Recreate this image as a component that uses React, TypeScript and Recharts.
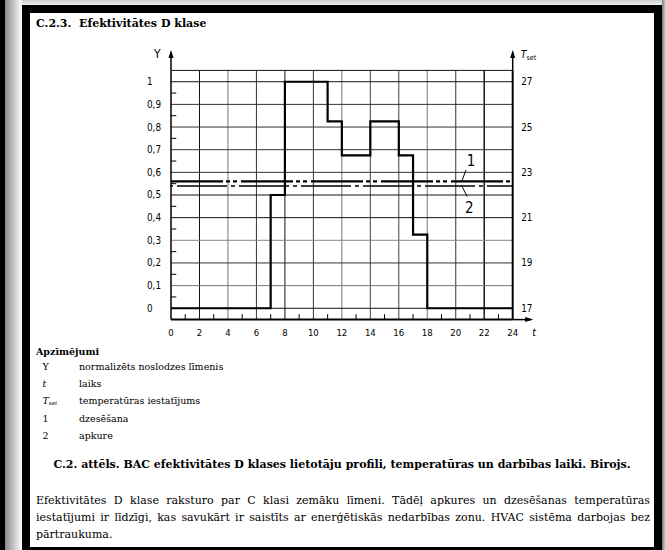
import React from 'react';
import { ComposedChart, Line, XAxis, YAxis, ReferenceLine, ReferenceDot } from 'recharts';

// ---- data ----
const hours = [0, 7, 8, 11, 12, 14, 16, 17, 18, 24];
const loadLevel = [0, 0.5, 1, 0.825, 0.675, 0.825, 0.675, 0.325, 0, 0];
const coolingSetpoint = 22.6;
const heatingSetpoint = 22.4;

const xTicks = [0, 2, 4, 6, 8, 10, 12, 14, 16, 18, 20, 22, 24];
const yTicks = [0, 0.1, 0.2, 0.3, 0.4, 0.5, 0.6, 0.7, 0.8, 0.9, 1];
const yTickLabels = ['0', '0,1', '0,2', '0,3', '0,4', '0,5', '0,6', '0,7', '0,8', '0,9', '1'];
const tTicks = [17, 19, 21, 23, 25, 27];
const xGrid = [2, 4, 6, 8, 10, 12, 14, 16, 18, 20, 22];
const xGridTone = ['#111', '#777', '#333', '#111', '#333', '#777', '#444', '#444', '#777', '#333', '#222'];
const yGrid = [0, 0.1, 0.2, 0.3, 0.4, 0.5, 0.6, 0.7, 0.8, 0.9, 1, 1.05];
const yGridTone = ['#111', '#777', '#333', '#888', '#111', '#111', '#333', '#333', '#333', '#333', '#111', '#111'];
const yMinor = [0.05, 0.15, 0.25, 0.35, 0.45, 0.55, 0.65, 0.75, 0.85, 0.95];
const xMinor = [1, 3, 5, 7, 9, 11, 13, 15, 17, 19, 21, 23];

const calloutLabels = ['1', '2'];
const calloutAt = [{ t: 21.07, y: 0.652 }, { t: 20.96, y: 0.445 }];
const calloutLeader = [
  [{ t: 20.72, y: 0.61 }, { t: 20.41, y: 0.559 }],
  [{ t: 20.41, y: 0.542 }, { t: 20.81, y: 0.4925 }],
];

const rows = hours.map((h, i) => ({ t: h, load: loadLevel[i], cool: coolingSetpoint, heat: heatingSetpoint }));

const sansC = "'DejaVu Sans Condensed','DejaVu Sans',sans-serif";
const serif = "'DejaVu Serif',serif";

const LeftTick = (p: any) => {
  const i = yTicks.indexOf(p.payload.value);
  return (
    <text x={p.x - 24} y={p.y} dy="0.355em" textAnchor="start" fontFamily={sansC} fontSize={9.8} fill="#000">
      {i >= 0 ? yTickLabels[i] : ''}
    </text>
  );
};
const RightTick = (p: any) => (
  <text x={p.x} y={p.y} dy="0.355em" textAnchor="start" fontFamily={sansC} fontSize={9.8} fill="#000">
    {p.payload.value}
  </text>
);
const BottomTick = (p: any) => (
  <text x={p.x} y={p.y} dy="0.71em" textAnchor="middle" fontFamily={sansC} fontSize={9.5} fill="#000">
    {p.payload.value}
  </text>
);

const ArrowUp = (p: any) => <path d={`M${p.cx},${p.cy} L${p.cx - 2.5},${p.cy + 8} L${p.cx + 2.5},${p.cy + 8} Z`} fill="#000" />;
const ArrowRight = (p: any) => <path d={`M${p.cx},${p.cy} L${p.cx - 8},${p.cy - 2.5} L${p.cx - 8},${p.cy + 2.5} Z`} fill="#000" />;
const YName = (p: any) => (
  <text x={p.cx - 17} y={p.cy + 4} dy="0.355em" fontFamily={sansC} fontSize={12} fill="#000">Y</text>
);
const TName = (p: any) => (
  <text x={p.cx + 8} y={p.cy + 4} dy="0.355em" fontFamily={sansC} fontSize={10.5} fill="#000">
    <tspan fontStyle="italic">T</tspan>
    <tspan fontSize={7} dy="2.5">set</tspan>
  </text>
);
const tName = (p: any) => (
  <text x={p.cx - 1} y={p.cy + 12.5} dy="0.355em" fontFamily={sansC} fontSize={10.5} fontStyle="italic" fill="#000">t</text>
);
const makeCallout = (s: string) => (p: any) => (
  <text x={p.cx} y={p.cy} dy="0.355em" textAnchor="middle" fontFamily={sansC} fontSize={15} fill="#000">{s}</text>
);

const Chart = () => (
  <ComposedChart
    width={666}
    height={550}
    data={rows}
    margin={{ top: 70.4, right: 113.3, bottom: 200.4, left: 131 }}
    style={{ position: 'absolute', left: 0, top: 0 }}
  >
    <XAxis
      dataKey="t"
      type="number"
      domain={[0, 24]}
      ticks={xTicks}
      interval={0}
      allowDataOverflow
      height={30}
      tickSize={0}
      tickMargin={9.5}
      tick={<BottomTick />}
      axisLine={{ stroke: '#000', strokeWidth: 2 }}
      tickLine={false}
    />
    <YAxis
      yAxisId="left"
      type="number"
      domain={[-0.05, 1.05]}
      ticks={yTicks}
      interval={0}
      allowDataOverflow
      width={40}
      tickSize={0}
      tickMargin={0}
      tick={<LeftTick />}
      axisLine={{ stroke: '#000', strokeWidth: 1.5 }}
      tickLine={false}
    />
    <YAxis
      yAxisId="right"
      orientation="right"
      type="number"
      domain={[16.5, 27.5]}
      ticks={tTicks}
      interval={0}
      allowDataOverflow
      width={40}
      tickSize={0}
      tickMargin={8.5}
      tick={<RightTick />}
      axisLine={{ stroke: '#000', strokeWidth: 2 }}
      tickLine={false}
    />

    {xGrid.map((v, i) => (
      <ReferenceLine key={'gx' + v} yAxisId="left" x={v} stroke={xGridTone[i]} strokeWidth={v === 22 ? 1.6 : 1} ifOverflow="visible" />
    ))}
    {yGrid.map((v, i) => (
      <ReferenceLine key={'gy' + v} yAxisId="left" y={v} stroke={yGridTone[i]} strokeWidth={1} ifOverflow="visible" />
    ))}
    {yMinor.map((v) => (
      <ReferenceLine key={'my' + v} yAxisId="left" segment={[{ x: 0, y: v }, { x: 0.37, y: v }]} stroke="#000" strokeWidth={1} ifOverflow="visible" />
    ))}
    {xMinor.map((v) => (
      <ReferenceLine key={'mx' + v} yAxisId="left" segment={[{ x: v, y: -0.05 }, { x: v, y: -0.026 }]} stroke="#000" strokeWidth={1} ifOverflow="visible" />
    ))}

    {/* axis extensions with arrows */}
    <ReferenceLine yAxisId="left" segment={[{ x: 0, y: 1.05 }, { x: 0, y: 1.13 }]} stroke="#000" strokeWidth={1.5} ifOverflow="visible" />
    <ReferenceLine yAxisId="left" segment={[{ x: 24, y: 1.05 }, { x: 24, y: 1.13 }]} stroke="#000" strokeWidth={1.5} ifOverflow="visible" />
    <ReferenceLine yAxisId="left" segment={[{ x: 24, y: -0.05 }, { x: 25.3, y: -0.05 }]} stroke="#000" strokeWidth={1.5} ifOverflow="visible" />
    <ReferenceDot yAxisId="left" x={0} y={1.14} r={0} ifOverflow="visible" shape={ArrowUp} />
    <ReferenceDot yAxisId="left" x={24} y={1.14} r={0} ifOverflow="visible" shape={ArrowUp} />
    <ReferenceDot yAxisId="left" x={25.44} y={-0.05} r={0} ifOverflow="visible" shape={ArrowRight} />
    <ReferenceDot yAxisId="left" x={0} y={1.14} r={0} ifOverflow="visible" shape={YName} />
    <ReferenceDot yAxisId="left" x={24} y={1.14} r={0} ifOverflow="visible" shape={TName} />
    <ReferenceDot yAxisId="left" x={25.44} y={-0.05} r={0} ifOverflow="visible" shape={tName} />

    <Line yAxisId="right" dataKey="cool" type="linear" stroke="#000" strokeWidth={2.2} strokeDasharray="52 3 4 3 4 4" dot={false} activeDot={false} isAnimationActive={false} />
    <Line yAxisId="right" dataKey="heat" type="linear" stroke="#000" strokeWidth={1.5} strokeDasharray="50 4 4 4" strokeDashoffset={-6} dot={false} activeDot={false} isAnimationActive={false} />
    <Line yAxisId="left" dataKey="load" type="stepAfter" stroke="#000" strokeWidth={2.2} dot={false} activeDot={false} isAnimationActive={false} />

    {calloutLeader.map((seg, i) => (
      <ReferenceLine key={'ld' + i} yAxisId="left" segment={[{ x: seg[0].t, y: seg[0].y }, { x: seg[1].t, y: seg[1].y }]} stroke="#000" strokeWidth={1} ifOverflow="visible" />
    ))}
    {calloutLabels.map((s, i) => (
      <ReferenceDot key={'cl' + i} yAxisId="left" x={calloutAt[i].t} y={calloutAt[i].y} r={0} ifOverflow="visible" shape={makeCallout(s)} />
    ))}
  </ComposedChart>
);

const abs = (l: number, t: number, extra: React.CSSProperties = {}): React.CSSProperties => ({
  position: 'absolute', left: l, top: t, whiteSpace: 'nowrap', color: '#000', ...extra,
});

const legendSymbols = ['Y', 't', 'T', '1', '2'];
const legendTexts = ['normalizēts noslodzes līmenis', 'laiks', 'temperatūras iestatījums', 'dzesēšana', 'apkure'];
const legendRowY = [367.3, 384.3, 401.3, 418.5, 435.6];

const bodyLines = [
  'Efektivitātes D klase raksturo par C klasi zemāku līmeni. Tādēļ apkures un dzesēšanas temperatūras',
  'iestatījumi ir līdzīgi, kas savukārt ir saistīts ar enerģētiskās nedarbības zonu. HVAC sistēma darbojas bez',
  'pārtraukuma.',
];
const bodyLineY = [500, 517, 534];

export default function App() {
  return (
    <div style={{ position: 'absolute', left: 0, top: 0, width: 666, height: 550, background: '#fff', overflow: 'hidden' }}>
      {/* page frame */}
      <div style={{ position: 'absolute', left: 0, top: 0, width: 666, height: 5, background: 'linear-gradient(to bottom,#cfcfcf,#eee)' }} />
      <div style={{ position: 'absolute', left: 0, top: 0, width: 5, height: 550, background: '#000' }} />
      <div style={{ position: 'absolute', left: 5, top: 0, width: 17, height: 550, background: 'linear-gradient(to right,#8a8a8a,#fff)' }} />
      <div style={{ position: 'absolute', left: 22, top: 5, width: 640, height: 550, background: '#000' }} />
      <div style={{ position: 'absolute', left: 662, top: 0, width: 4, height: 550, background: 'linear-gradient(to right,#777,#ddd)' }} />
      <div style={{ position: 'absolute', left: 30, top: 13, width: 624, height: 534, background: '#fff' }} />

      <div style={abs(36, 24 - 7, { fontFamily: serif, fontWeight: 700, fontSize: 11, lineHeight: '14px', whiteSpace: 'pre' })}>
        {'C.2.3.  Efektivitātes D klase'}
      </div>

      <Chart />

      <div style={abs(36, 352 - 7, { fontFamily: serif, fontWeight: 700, fontSize: 9.5, lineHeight: '14px' })}>Apzīmējumi</div>
      {legendSymbols.map((s, i) => (
        <div key={'ls' + i} style={abs(42.5, legendRowY[i] - 7, { fontFamily: serif, fontSize: 9.5, lineHeight: '14px', fontStyle: i === 1 || i === 2 ? 'italic' : 'normal' })}>
          {s}
          {i === 2 ? <sub style={{ fontSize: 5.5, verticalAlign: '-1px' }}>set</sub> : null}
        </div>
      ))}
      {legendTexts.map((s, i) => (
        <div key={'lt' + i} style={abs(79, legendRowY[i] - 7, { fontFamily: serif, fontSize: 9.5, lineHeight: '14px' })}>{s}</div>
      ))}

      <div style={abs(30, 465 - 7, { width: 624, textAlign: 'center', fontFamily: serif, fontWeight: 700, fontSize: 11, lineHeight: '14px' })}>
        C.2. attēls. BAC efektivitātes D klases lietotāju profili, temperatūras un darbības laiki. Birojs.
      </div>

      {bodyLines.map((s, i) => (
        <div
          key={'bl' + i}
          style={abs(36, bodyLineY[i] - 7.5, {
            width: 614,
            whiteSpace: 'normal',
            textAlign: i < 2 ? 'justify' : 'left',
            textAlignLast: i < 2 ? 'justify' : 'left',
            fontFamily: serif,
            fontSize: 11,
            lineHeight: '15px',
          } as React.CSSProperties)}
        >
          {s}
        </div>
      ))}
    </div>
  );
}
